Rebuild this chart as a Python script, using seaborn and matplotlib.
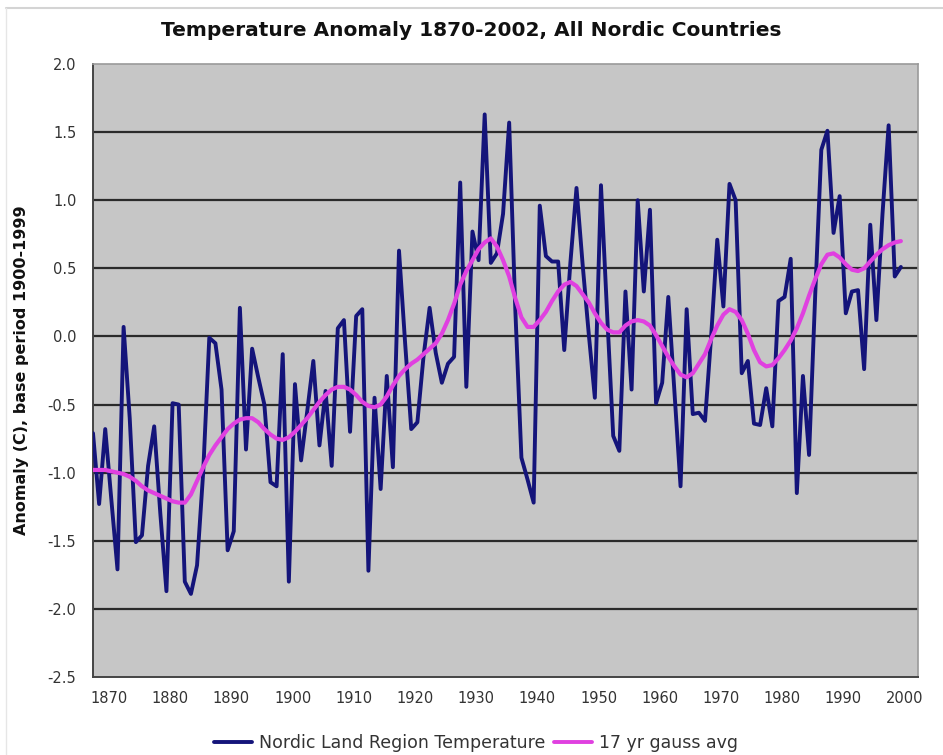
import matplotlib
matplotlib.use("Agg")
import matplotlib.pyplot as plt
import matplotlib.transforms as mtransforms
from matplotlib.lines import Line2D
import seaborn as sns
import pandas as pd

# ---- data ----
start_year = 1870
temperature = [
    -0.71, -1.23, -0.68, -1.20, -1.71, 0.07, -0.60, -1.51, -1.46, -0.95,   # 1870-1879
    -0.66, -1.30, -1.87, -0.49, -0.50, -1.80, -1.89, -1.68, -1.00, -0.01,  # 1880-1889
    -0.05, -0.39, -1.57, -1.43, 0.21, -0.83, -0.09, -0.30, -0.50, -1.07,   # 1890-1899
    -1.10, -0.13, -1.80, -0.35, -0.91, -0.55, -0.18, -0.80, -0.40, -0.95,  # 1900-1909
    0.06, 0.12, -0.70, 0.15, 0.20, -1.72, -0.45, -1.12, -0.29, -0.96,      # 1910-1919
    0.63, -0.05, -0.68, -0.63, -0.15, 0.21, -0.12, -0.34, -0.20, -0.15,    # 1920-1929
    1.13, -0.37, 0.77, 0.56, 1.63, 0.54, 0.61, 0.90, 1.57, 0.20,           # 1930-1939
    -0.89, -1.05, -1.22, 0.96, 0.59, 0.55, 0.55, -0.10, 0.54, 1.09,        # 1940-1949
    0.53, 0.02, -0.45, 1.11, 0.17, -0.73, -0.84, 0.33, -0.39, 1.00,        # 1950-1959
    0.33, 0.93, -0.49, -0.34, 0.29, -0.40, -1.10, 0.20, -0.57, -0.56,      # 1960-1969
    -0.62, 0.00, 0.71, 0.22, 1.12, 1.00, -0.27, -0.18, -0.64, -0.65,       # 1970-1979
    -0.38, -0.66, 0.26, 0.29, 0.57, -1.15, -0.29, -0.87, 0.30, 1.37,       # 1980-1989
    1.51, 0.76, 1.03, 0.17, 0.33, 0.34, -0.24, 0.82, 0.12, 0.90,           # 1990-1999
    1.55, 0.44, 0.51,                                                      # 2000-2002
]
gauss17 = [
    -0.98, -0.98, -0.98, -0.99, -1.00, -1.01, -1.03, -1.06, -1.10, -1.13,
    -1.15, -1.17, -1.19, -1.21, -1.22, -1.22, -1.16, -1.06, -0.96, -0.87,
    -0.80, -0.74, -0.68, -0.64, -0.61, -0.60, -0.60, -0.63, -0.68, -0.72,
    -0.75, -0.76, -0.74, -0.70, -0.65, -0.60, -0.54, -0.48, -0.43, -0.39,
    -0.37, -0.37, -0.39, -0.43, -0.48, -0.51, -0.52, -0.50, -0.44, -0.36,
    -0.29, -0.24, -0.20, -0.17, -0.13, -0.09, -0.05, 0.02, 0.12, 0.24,
    0.38, 0.48, 0.56, 0.64, 0.69, 0.72, 0.66, 0.56, 0.44, 0.28,
    0.14, 0.07, 0.07, 0.12, 0.18, 0.26, 0.33, 0.38, 0.40, 0.37,
    0.31, 0.25, 0.17, 0.10, 0.05, 0.03, 0.03, 0.08, 0.11, 0.12,
    0.11, 0.08, 0.01, -0.07, -0.15, -0.22, -0.28, -0.30, -0.27, -0.20,
    -0.13, -0.02, 0.08, 0.16, 0.20, 0.18, 0.12, 0.02, -0.10, -0.19,
    -0.22, -0.21, -0.16, -0.10, -0.03, 0.06, 0.17, 0.30, 0.42, 0.53,
    0.60, 0.61, 0.58, 0.53, 0.49, 0.48, 0.50, 0.55, 0.60, 0.64,
    0.67, 0.69, 0.70,
]
years = list(range(start_year, start_year + len(temperature)))
x_ticks = list(range(1870, 2001, 10))
y_ticks = [-2.5, -2.0, -1.5, -1.0, -0.5, 0.0, 0.5, 1.0, 1.5, 2.0]

series_names = ["Nordic Land Region Temperature", "17 yr gauss avg"]
title = "Temperature Anomaly 1870-2002, All Nordic Countries"
ylabel = "Anomaly (C), base period 1900-1999"

df = pd.DataFrame({
    "year": years + years,
    "value": temperature + gauss17,
    "series": [series_names[0]] * len(years) + [series_names[1]] * len(years),
})

# ---- figure ----
sns.set_theme(style="white")
plt.rcParams["font.family"] = ["DejaVu Sans"]

fig = plt.figure(figsize=(9.43, 7.55), dpi=100)

# faint outer chart border (top and left), as in the reference
fig.add_artist(Line2D([6 / 943, 1.0], [1 - 8 / 755, 1 - 8 / 755],
                      transform=fig.transFigure, color="#d4d4d4", linewidth=1.5))
fig.add_artist(Line2D([6 / 943, 6 / 943], [1 - 8 / 755, 0.0],
                      transform=fig.transFigure, color="#e6e6e6", linewidth=1.0))

ax = fig.add_axes([93 / 943, 1 - 677 / 755, (918 - 93) / 943, (677 - 64) / 755])
ax.set_facecolor("#c6c6c6")

palette = {series_names[0]: "#14147a", series_names[1]: "#e040e0"}
sns.lineplot(data=df[df.series == series_names[0]], x="year", y="value",
             color=palette[series_names[0]], ax=ax, linewidth=2.8, zorder=3)
sns.lineplot(data=df[df.series == series_names[1]], x="year", y="value",
             color=palette[series_names[1]], ax=ax, linewidth=3.0, zorder=4)

ax.set_xlim(1870, 2004.8)
ax.set_ylim(-2.5, 2.0)
ax.set_yticks(y_ticks)
ax.set_yticklabels([f"{v:.1f}" for v in y_ticks])
ax.set_xticks(x_ticks)
ax.set_xticklabels([str(v) for v in x_ticks])

for v in y_ticks[1:-1]:
    ax.axhline(v, color="#2a2a2a", linewidth=1.6, zorder=1)

ax.tick_params(axis="both", which="both", direction="out", length=5, width=1,
               color="#555555", labelsize=10.5, labelcolor="#333333")
ax.tick_params(axis="y", pad=7)
ax.tick_params(axis="x", pad=5)
offset = mtransforms.ScaledTranslation(16 / 100, 0, fig.dpi_scale_trans)
for lab in ax.get_xticklabels():
    lab.set_transform(lab.get_transform() + offset)

for side in ["left", "bottom"]:
    ax.spines[side].set_color("#444444")
    ax.spines[side].set_linewidth(1.4)
for side in ["top", "right"]:
    ax.spines[side].set_color("#9a9a9a")
    ax.spines[side].set_linewidth(1.2)

ax.set_xlabel("")
ax.set_ylabel(ylabel, fontsize=11.5, fontweight="bold", color="#111111", labelpad=13)
fig.text(0.5, 1 - 30 / 755, title, ha="center", va="center",
         fontsize=14.5, fontweight="bold", color="#111111")

handles = [Line2D([], [], color=palette[n], linewidth=2.8) for n in series_names]
fig.legend(handles, series_names, loc="center", bbox_to_anchor=(0.505, 1 - 743 / 755),
           ncol=2, frameon=False, fontsize=12.5, handlelength=2.2,
           columnspacing=0.5, handletextpad=0.4, labelcolor="#333333")

fig.savefig("out.png", dpi=100, facecolor="white")
